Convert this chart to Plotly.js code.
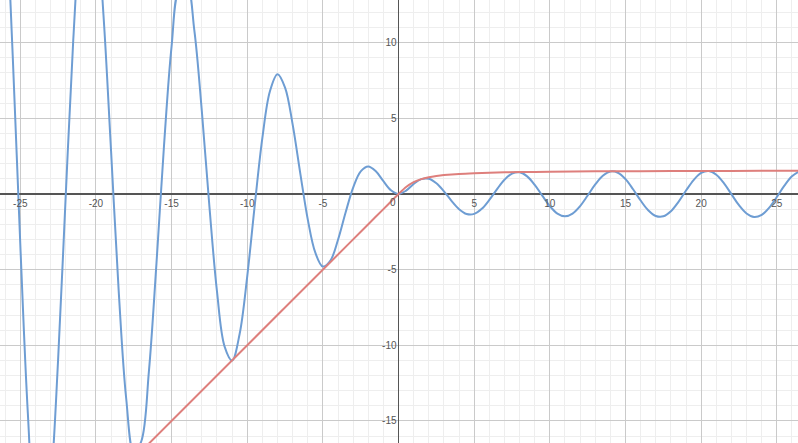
<!DOCTYPE html>
<html>
<head>
<meta charset="utf-8">
<script src="https://cdn.plot.ly/plotly-3.0.1.min.js"></script>
<style>html,body{margin:0;padding:0;background:#fff;}#chart{width:798px;height:443px;}</style>
</head>
<body>
<div id="chart"></div>
<script>
// Blue curve, values
const blueX = [-26.5,-26,-25.5,-25,-24.5,-24,-23.5,-23,-22.5,-22,-21.5,-21,-20.5,-20,-19.5,-19,-18.5,-18,-17.5,-17,-16.5,-16,-15.5,-15,-14.5,-14,-13.5,-13,-12.5,-12,-11.5,-11,-10.5,-10,-9.5,-9,-8.5,-8,-7.5,-7,-6.5,-6,-5.5,-5,-4.5,-4,-3.5,-3,-2.5,-2,-1.5,-1,-0.5,0,0.5,1,1.5,2,2.5,3,3.5,4,4.5,5,5.5,6,6.5,7,7.5,8,8.5,9,9.5,10,10.5,11,11.5,12,12.5,13,13.5,14,14.5,15,15.5,16,16.5,17,17.5,18,18.5,19,19.5,20,20.5,21,21.5,22,22.5,23,23.5,24,24.5,25,25.5,26,26.5];
const blueY = [25.95,19.82,9.157,-3.31,-14.49,-21.73,-23.455,-19.46,-10.96,-0.194,10.139,17.571,20.435,18.26,11.81,2.846,-6.336,-13.52,-17.07,-16.344,-11.745,-4.606,3.20,9.754,13.556,13.868,10.851,5.463,-0.829,-6.44,-10.07,-11.0,-9.237,-5.44,-0.714,3.709,6.787,7.915,7.035,4.599,1.398,-1.676,-3.88,-4.795,-4.399,-3.027,-1.228,0.423,1.496,1.819,1.496,0.841,0.240,0,0.222,0.661,0.980,1.007,0.712,0.176,-0.453,-1.003,-1.322,-1.317,-0.981,-0.393,0.305,0.939,1.349,1.431,1.161,0.602,-0.110,-0.800,-1.298,-1.480,-1.299,-0.798,-0.099,0.628,1.203,1.485,1.404,0.978,0.311,-0.434,-1.075,-1.454,-1.477,-1.138,-0.520,0.228,0.920,1.388,1.517,1.274,0.719,-0.014,-0.744,-1.292,-1.525,-1.385,-0.905,-0.203,0.550,1.168,1.502];
// Red curve, values
const redX = [-18,-14,-10,-6,-3,-2,-1,-0.5,0,0.5,1,1.5,2,2.5,3,4,5,6,8,10,13,16,20,24,27];
const redY = [-18,-14,-10,-6,-3,-2,-1,-0.5,0,0.464,0.785,0.983,1.107,1.190,1.249,1.326,1.373,1.406,1.446,1.471,1.494,1.508,1.521,1.529,1.534];
// Tick labels
const xTickVals = [-25,-20,-15,-10,-5,0,5,10,15,20,25];
const xTickText = ['-25','-20','-15','-10','-5','','5','10','15','20','25'];
const yTickVals = [-15,-10,-5,0,5,10];
const yTickText = ['-15','-10','-5','','5','10'];

const blueColor = '#6e9dd3';
const redColor = '#de7f7c';

const traces = [
  {x: blueX, y: blueY, type: 'scatter', mode: 'lines',
   line: {color: blueColor, width: 2, shape: 'spline', smoothing: 1}, hoverinfo: 'skip'},
  {x: redX, y: redY, type: 'scatter', mode: 'lines',
   line: {color: redColor, width: 2, shape: 'spline', smoothing: 0.6}, hoverinfo: 'skip'}
];

const tickFont = {family: 'Arial, Liberation Sans, sans-serif', size: 10, color: '#555'};

const layout = {
  width: 798, height: 443,
  margin: {l: 0, r: 0, t: 0, b: 0, pad: 0},
  paper_bgcolor: '#fff', plot_bgcolor: '#fff',
  showlegend: false,
  xaxis: {
    range: [-26.34, 26.40],
    tickmode: 'array', tickvals: xTickVals, ticktext: xTickText,
    showgrid: true, gridcolor: '#cacaca', gridwidth: 1,
    minor: {dtick: 1, tick0: 0, showgrid: true, gridcolor: '#eeeeee', gridwidth: 1},
    zeroline: true, zerolinecolor: '#555', zerolinewidth: 1.6,
    showline: false, ticks: '',
    anchor: 'free', position: 0.5621, side: 'bottom',
    tickfont: tickFont, ticklabelstandoff: 2,
    fixedrange: true
  },
  yaxis: {
    range: [-16.46, 12.82],
    tickmode: 'array', tickvals: yTickVals, ticktext: yTickText,
    showgrid: true, gridcolor: '#cacaca', gridwidth: 1,
    minor: {dtick: 1, tick0: 0, showgrid: true, gridcolor: '#eeeeee', gridwidth: 1},
    zeroline: true, zerolinecolor: '#555', zerolinewidth: 1.6,
    showline: false, ticks: '',
    anchor: 'free', position: 0.4994, side: 'left',
    tickfont: tickFont, ticklabelstandoff: 2,
    fixedrange: true
  },
  annotations: [
    {x: 0, y: 0, xref: 'x', yref: 'y', text: '0', showarrow: false,
     xanchor: 'right', yanchor: 'top', xshift: -1, yshift: -1, font: tickFont}
  ]
};

Plotly.newPlot('chart', traces, layout, {displayModeBar: false, staticPlot: true});
</script>
</body>
</html>
